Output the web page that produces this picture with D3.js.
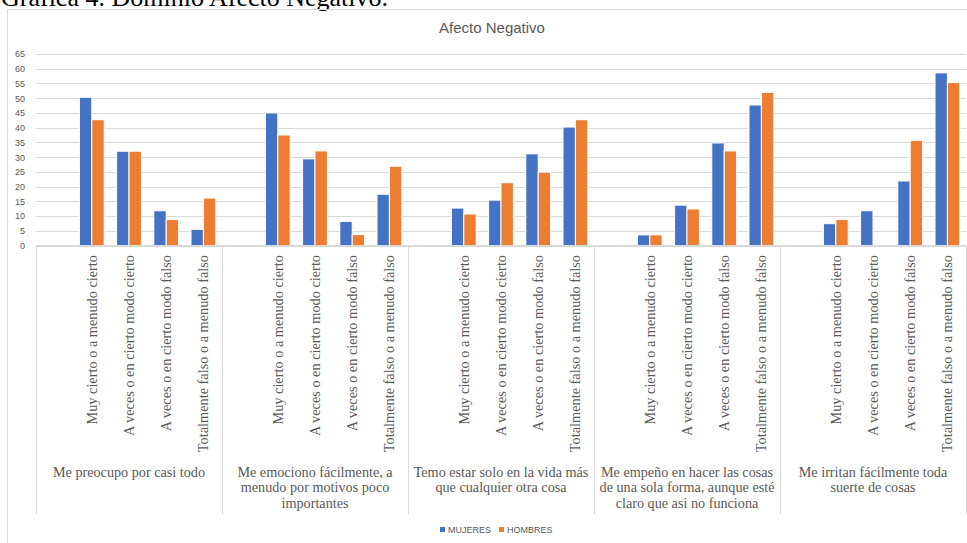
<!DOCTYPE html>
<html>
<head>
<meta charset="utf-8">
<script src="https://cdn.jsdelivr.net/npm/d3@7"></script>
<style>
  html, body { margin: 0; padding: 0; background: #fff; }
  svg { display: block; }
</style>
</head>
<body>
<svg id="chart" width="967" height="543"></svg>
<script>
// Items of the "Afecto Negativo" domain (one group per item)
const groups = [
  ["Me preocupo por casi todo"],
  ["Me emociono fácilmente, a", "menudo por motivos poco", "importantes"],
  ["Temo estar solo en la vida más", "que cualquier otra cosa"],
  ["Me empeño en hacer las cosas", "de una sola forma, aunque esté", "claro que asi no funciona"],
  ["Me irritan fácilmente toda", "suerte de cosas"]
];

// Response options inside each group (first slot of each group is left blank)
const responses = [
  "",
  "Muy cierto o a menudo cierto",
  "A veces o en cierto modo cierto",
  "A veces o en cierto modo falso",
  "Totalmente falso o a menudo falso"
];

const seriesNames = ["MUJERES", "HOMBRES"];
const seriesColors = ["#4472C4", "#ED7D31"];

// Percentages per group, in the order of the non-blank responses
const mujeres = [
  [50.3, 32.0, 11.8, 5.5],
  [45.0, 29.4, 8.2, 17.4],
  [12.7, 15.4, 31.1, 40.2],
  [3.6, 13.7, 34.8, 47.7],
  [7.4, 11.8, 21.9, 58.6]
];
const hombres = [
  [42.7, 32.0, 8.8, 16.1],
  [37.5, 32.1, 3.7, 26.9],
  [10.7, 21.3, 24.9, 42.7],
  [3.6, 12.4, 32.1, 52.0],
  [8.8, 0.0, 35.7, 55.3]
];

const yTicks = d3.range(0, 70, 5);

// ---- layout ----
const svg = d3.select("#chart");
const plot = { left: 36, right: 966, top: 54, bottom: 245.5 };
const labelBottom = 514;
const gridColor = "#D9D9D9";
const textColor = "#595959";

// one slot per (group, response)
const slots = [];
groups.forEach((g, gi) => responses.forEach((r, ri) => slots.push({ gi, ri, key: gi + "-" + ri, label: r })));

const x = d3.scaleBand()
  .domain(slots.map(d => d.key))
  .range([plot.left, plot.right])
  .paddingInner(0).paddingOuter(0);

const xs = d3.scaleBand()
  .domain(seriesNames)
  .range([0, x.bandwidth()])
  .paddingInner(0).paddingOuter(0.5);

const y = d3.scaleLinear().domain([0, 65]).range([plot.bottom, plot.top]);

// caption above the chart box
svg.append("text")
  .attr("x", 1).attr("y", 6)
  .attr("font-family", "'Liberation Serif', 'Times New Roman', serif")
  .attr("font-size", 26)
  .attr("fill", "#000")
  .text("Gráfica 4. Dominio Afecto Negativo.");

// chart box
svg.append("rect")
  .attr("x", 7.5).attr("y", 9.5)
  .attr("width", 970).attr("height", 545)
  .attr("fill", "none")
  .attr("stroke", gridColor);

// title
svg.append("text")
  .attr("x", 492).attr("y", 33)
  .attr("text-anchor", "middle")
  .attr("font-family", "'Liberation Sans', Arial, sans-serif")
  .attr("font-size", 15)
  .attr("fill", textColor)
  .text("Afecto Negativo");

// y axis: gridlines and labels
const yAxis = d3.axisLeft(y)
  .tickValues(yTicks)
  .tickSize(-(plot.right - plot.left))
  .tickPadding(11)
  .tickFormat(d3.format("d"));

const yg = svg.append("g")
  .attr("transform", `translate(${plot.left},0)`)
  .call(yAxis);
yg.select(".domain").remove();
yg.selectAll(".tick line").attr("stroke", gridColor).attr("shape-rendering", "crispEdges");
yg.selectAll(".tick text")
  .attr("fill", textColor)
  .attr("font-family", "'Liberation Sans', Arial, sans-serif")
  .attr("font-size", 9);

// bars
const barData = [];
slots.forEach(s => {
  if (s.ri === 0) return;
  const vals = [mujeres[s.gi][s.ri - 1], hombres[s.gi][s.ri - 1]];
  seriesNames.forEach((name, si) => barData.push({ key: s.key, series: name, si, value: vals[si] }));
});

svg.append("g").selectAll("rect")
  .data(barData.filter(d => d.value > 0))
  .join("rect")
  .attr("x", d => x(d.key) + xs(d.series))
  .attr("y", d => y(d.value))
  .attr("width", xs.bandwidth())
  .attr("height", d => y(0) - y(d.value))
  .attr("fill", d => seriesColors[d.si])
  .attr("stroke", "#fff")
  .attr("stroke-width", 1);

// category axis line and group separators
const axisG = svg.append("g").attr("stroke", gridColor).attr("shape-rendering", "crispEdges");
axisG.append("line")
  .attr("x1", plot.left).attr("x2", plot.right)
  .attr("y1", y(0)).attr("y2", y(0));
const sepX = groups.map((g, gi) => x(gi + "-0")).concat([plot.right]);
axisG.selectAll("line.sep")
  .data(sepX)
  .join("line")
  .attr("class", "sep")
  .attr("x1", d => d).attr("x2", d => d)
  .attr("y1", y(0)).attr("y2", labelBottom);

// rotated response labels
svg.append("g").selectAll("text")
  .data(slots.filter(s => s.label))
  .join("text")
  .attr("transform", d => `translate(${x(d.key) + x.bandwidth() / 2},255) rotate(-90)`)
  .attr("dy", "0.35em")
  .attr("text-anchor", "end")
  .attr("font-family", "'Liberation Serif', 'Times New Roman', serif")
  .attr("font-size", 14.3)
  .attr("fill", textColor)
  .text(d => d.label);

// group labels
const gl = svg.append("g").selectAll("text")
  .data(groups)
  .join("text")
  .attr("text-anchor", "middle")
  .attr("font-family", "'Liberation Serif', 'Times New Roman', serif")
  .attr("font-size", 14.2)
  .attr("fill", textColor);
gl.each(function (lines, gi) {
  const cx = (sepX[gi] + sepX[gi + 1]) / 2;
  d3.select(this).selectAll("tspan")
    .data(lines)
    .join("tspan")
    .attr("x", cx)
    .attr("y", (d, i) => 476.5 + i * 15.5)
    .text(d => d);
});

// legend
const legend = svg.append("g");
const legendX = [440, 499];
seriesNames.forEach((name, i) => {
  legend.append("rect")
    .attr("x", legendX[i]).attr("y", 527)
    .attr("width", 5).attr("height", 5)
    .attr("fill", seriesColors[i]);
  legend.append("text")
    .attr("x", legendX[i] + 8).attr("y", 532.5)
    .attr("font-family", "'Liberation Sans', Arial, sans-serif")
    .attr("font-size", 9)
    .attr("fill", textColor)
    .text(name);
});
</script>
</body>
</html>
